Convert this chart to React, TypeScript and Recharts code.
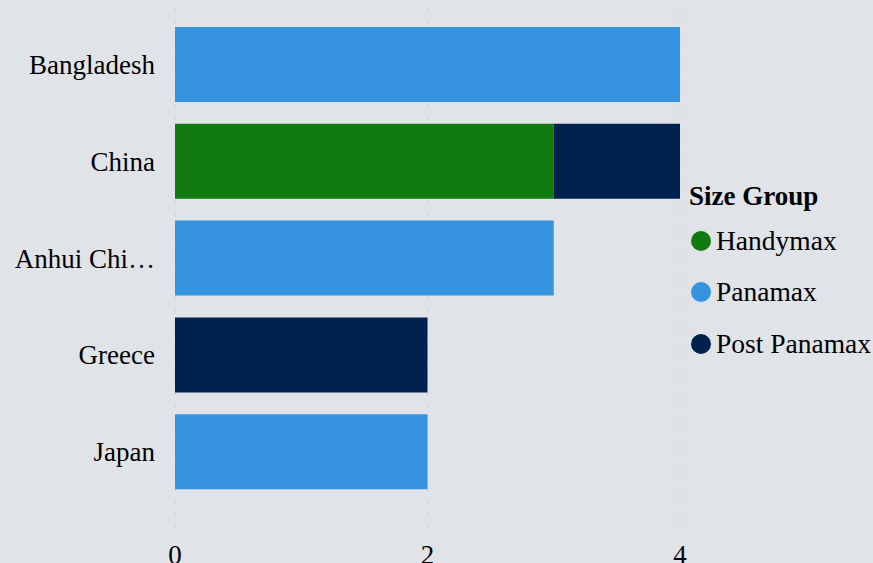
import { BarChart, Bar, XAxis, YAxis, CartesianGrid } from 'recharts';

const countries = ['Bangladesh', 'China', 'Anhui Chi…', 'Greece', 'Japan'];
const handymax = [0, 3, 0, 0, 0];
const panamax = [4, 0, 3, 0, 2];
const postPanamax = [0, 1, 0, 2, 0];
const xTicks = [0, 2, 4];

const SERIES = [
  { key: 'Handymax', color: '#117a11' },
  { key: 'Panamax', color: '#3593e0' },
  { key: 'Post Panamax', color: '#00204e' },
];

const data = countries.map((c, i) => ({
  country: c,
  Handymax: handymax[i],
  Panamax: panamax[i],
  'Post Panamax': postPanamax[i],
}));

const FONT = '"Liberation Serif", "Times New Roman", serif';

function SizeLegend() {
  return (
    <div style={{ position: 'absolute', left: 689, top: 180, fontFamily: FONT, color: '#000' }}>
      <div style={{ fontWeight: 'bold', fontSize: 27, lineHeight: '32px', height: 35 }}>Size Group</div>
      {SERIES.map((s) => (
        <div key={s.key} style={{ display: 'flex', alignItems: 'center', height: 51.5 }}>
          <span
            style={{
              display: 'inline-block',
              width: 20,
              height: 20,
              borderRadius: '50%',
              background: s.color,
              marginLeft: 2,
              marginRight: 5,
            }}
          />
          <span style={{ fontSize: 27.5 }}>{s.key}</span>
        </div>
      ))}
    </div>
  );
}

export default function App() {
  return (
    <div
      style={{
        position: 'relative',
        width: 873,
        height: 563,
        background: '#e0e3e8',
        overflow: 'hidden',
        fontFamily: FONT,
      }}
    >
      <style>{`body{margin:0}`}</style>
      <BarChart
        width={873}
        height={563}
        data={data}
        layout="vertical"
        margin={{ top: 9, right: 193, bottom: 0, left: 0 }}
        barSize={75}
        style={{ fontFamily: FONT }}
      >
        <CartesianGrid horizontal={false} stroke="#c4c6ca" strokeDasharray="2 10" />
        <XAxis
          type="number"
          domain={[0, 4]}
          ticks={xTicks}
          axisLine={false}
          tickLine={false}
          tickSize={0}
          tickMargin={14}
          height={32}
          tick={{ fill: '#000', fontSize: 27, fontFamily: FONT }}
        />
        <YAxis
          type="category"
          dataKey="country"
          width={175}
          axisLine={false}
          tickLine={false}
          tickSize={0}
          tickMargin={20}
          padding={{ top: 7, bottom: 31 }}
          tick={{ fill: '#000', fontSize: 27, fontFamily: FONT }}
        />
        {SERIES.map((s) => (
          <Bar key={s.key} dataKey={s.key} stackId="a" fill={s.color} isAnimationActive={false} />
        ))}
      </BarChart>
      <SizeLegend />
    </div>
  );
}
